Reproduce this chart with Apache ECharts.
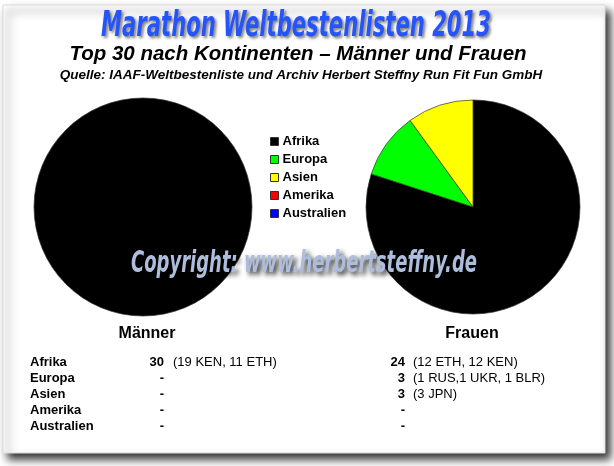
<!DOCTYPE html>
<html>
<head>
<meta charset="utf-8">
<script src="https://cdn.jsdelivr.net/npm/echarts@6/dist/echarts.min.js"></script>
<style>html,body{margin:0;padding:0;background:#fff;}#c{width:614px;height:466px;}</style>
</head>
<body>
<div id="c"></div>
<script>
// ---- data ----
const continents = ['Afrika', 'Europa', 'Asien', 'Amerika', 'Australien'];
const menValues = [30, 0, 0, 0, 0];
const womenValues = [24, 3, 3, 0, 0];
const menDetail = ['(19 KEN, 11 ETH)', '', '', '', ''];
const womenDetail = ['(12 ETH, 12 KEN)', '(1 RUS,1 UKR, 1 BLR)', '(3 JPN)', '', ''];
const groupLabels = ['Männer', 'Frauen'];
const titleText = 'Marathon Weltbestenlisten 2013';
const subtitleText = 'Top 30 nach Kontinenten – Männer und Frauen';
const sourceText = 'Quelle: IAAF-Weltbestenliste und Archiv Herbert Steffny Run Fit Fun GmbH';
const copyrightText = 'Copyright: www.herbertsteffny.de';

// ---- styles ----
const palette = ['#000000', '#00ff00', '#ffff00', '#ff0000', '#0000ff'];
const FONT = '"Liberation Sans", Arial, sans-serif';
const NARROW = '"Liberation Sans Narrow", "DejaVu Sans Condensed", sans-serif';

const chart = echarts.init(document.getElementById('c'), null, {renderer: 'canvas'});

function pieData(values) {
  return values.map((v, i) => ({
    name: continents[i],
    value: v,
    itemStyle: v === 0 ? {borderWidth: 0} : undefined
  }));
}

const graphics = [];
// card with drop shadow
graphics.push({
  type: 'rect', z: -10,
  shape: {x: 3, y: 5, width: 602, height: 448},
  style: {fill: '#ffffff', stroke: '#dcdcdc', lineWidth: 1,
    shadowBlur: 8, shadowColor: 'rgba(0,0,0,0.8)', shadowOffsetX: 5, shadowOffsetY: 6}
});
// headings
graphics.push({
  type: 'text', x: 296, y: 27, scaleY: 1.5, z: 50,
  style: {text: titleText, font: 'italic bold 23.5px ' + NARROW, fill: '#2555fa',
    textAlign: 'center', textVerticalAlign: 'middle',
    textShadowColor: 'rgba(0,0,0,0.5)', textShadowBlur: 3, textShadowOffsetX: 2, textShadowOffsetY: 2}
});
graphics.push({
  type: 'text', x: 298, y: 54, z: 50,
  style: {text: subtitleText, font: 'italic bold 20.5px ' + FONT, fill: '#000',
    textAlign: 'center', textVerticalAlign: 'middle'}
});
graphics.push({
  type: 'text', x: 301, y: 75, z: 50,
  style: {text: sourceText, font: 'italic bold 13.5px ' + FONT, fill: '#000',
    textAlign: 'center', textVerticalAlign: 'middle'}
});
// copyright watermark
graphics.push({
  type: 'text', x: 304, y: 264, scaleY: 1.55, z: 100,
  style: {text: copyrightText, font: 'italic bold 20px ' + NARROW, fill: '#aebddb',
    textAlign: 'center', textVerticalAlign: 'middle',
    textShadowColor: 'rgba(0,0,0,0.85)', textShadowBlur: 5, textShadowOffsetX: 3, textShadowOffsetY: 3}
});
// group labels
const groupX = [147, 472];
groupLabels.forEach((g, i) => {
  graphics.push({
    type: 'text', x: groupX[i], y: 334, z: 50,
    style: {text: g, font: 'bold 16px ' + FONT, fill: '#000', textAlign: 'center', textVerticalAlign: 'middle'}
  });
});
// table
const rowY0 = 362, rowStep = 16;
continents.forEach((c, i) => {
  const y = rowY0 + i * rowStep;
  graphics.push({type: 'text', x: 30, y: y, z: 50,
    style: {text: c, font: 'bold 13px ' + FONT, fill: '#000', textVerticalAlign: 'middle'}});
  [[menValues, menDetail, 164, 173], [womenValues, womenDetail, 405, 413]].forEach(([vals, det, nx, dx]) => {
    graphics.push({type: 'text', x: nx, y: y, z: 50,
      style: {text: vals[i] === 0 ? '-' : String(vals[i]), font: 'bold 13px ' + FONT, fill: '#000',
        textAlign: 'right', textVerticalAlign: 'middle'}});
    if (det[i]) {
      graphics.push({type: 'text', x: dx, y: y, z: 50,
        style: {text: det[i], font: '13px ' + FONT, fill: '#000', textVerticalAlign: 'middle'}});
    }
  });
});

const option = {
  animation: false,
  backgroundColor: '#ffffff',
  color: palette,
  legend: {
    orient: 'vertical', left: 265, top: 130,
    data: continents,
    icon: 'rect', itemWidth: 8, itemHeight: 8, itemGap: 5,
    selectedMode: false,
    itemStyle: {borderColor: '#333', borderWidth: 1},
    textStyle: {fontFamily: FONT, fontWeight: 'bold', fontSize: 13, color: '#000', lineHeight: 13, padding: [0, 0, 0, -1]}
  },
  graphic: graphics,
  series: [
    {
      type: 'pie', name: groupLabels[0], center: [143, 207], radius: 109,
      startAngle: 90, clockwise: true, silent: true,
      label: {show: false}, labelLine: {show: false},
      itemStyle: {borderColor: '#333', borderWidth: 0.7},
      data: pieData(menValues)
    },
    {
      type: 'pie', name: groupLabels[1], center: [473, 207], radius: 107,
      startAngle: 90, clockwise: true, silent: true,
      label: {show: false}, labelLine: {show: false},
      itemStyle: {borderColor: '#333', borderWidth: 0.7},
      data: pieData(womenValues)
    }
  ]
};
chart.setOption(option);
</script>
</body>
</html>
